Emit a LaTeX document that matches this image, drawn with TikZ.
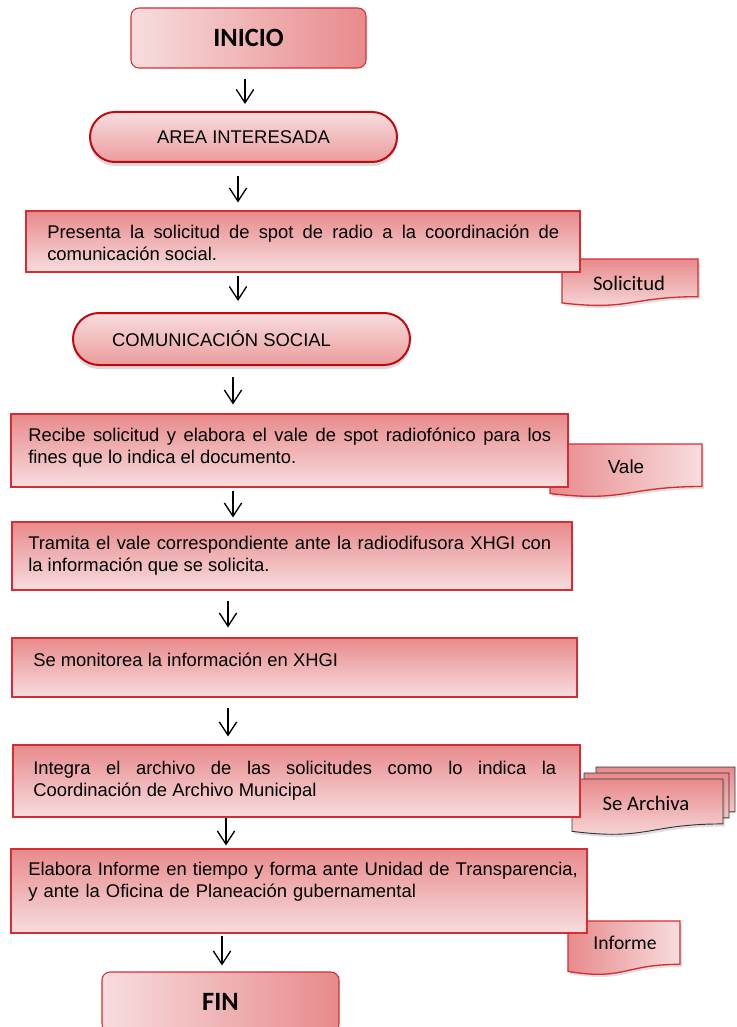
\documentclass[tikz,border=0pt]{standalone}
\usepackage{fontspec}
\setmainfont{Liberation Sans}
\newfontfamily\calibri{Carlito}
\usetikzlibrary{shapes.misc,arrows.meta,shadows}

\definecolor{rosaosc}{RGB}{232,138,140}
\definecolor{rosacla}{RGB}{247,221,222}
\definecolor{bordeRojo}{RGB}{214,45,50}
\definecolor{rojoOsc}{RGB}{192,10,15}

\pgfdeclarelayer{fondo}
\pgfsetlayers{fondo,main}

\newcommand{\hoja}[5]{%
  \path[#1] (#2,#3) -- (#4,#3) -- (#4,{#3+0.802*(#5-#3)})
    .. controls ({(#2+#4)/2},{#3+0.802*(#5-#3)}) and ({(#2+#4)/2},{#3+1.107*(#5-#3)}) .. (#2,{#3+0.934*(#5-#3)}) -- cycle;}

\tikzset{
  extremo/.style={rounded corners=6pt, draw=bordeRojo, line width=0.8pt, inner sep=0pt,
    left color=rosacla, right color=rosaosc, minimum width=#1, minimum height=45pt,
    font=\calibri\bfseries\fontsize{19.8}{22}\selectfont},
  area/.style={rounded rectangle, draw=rojoOsc, line width=1.5pt, inner sep=0pt,
    top color=rosacla, bottom color=rosaosc!85!white,
    drop shadow={opacity=0.3, shadow xshift=0pt, shadow yshift=-3pt},
    font=\fontsize{13.8}{16.5}\selectfont},
  caja/.style={draw=bordeRojo, line width=0.8pt, inner sep=0pt, top color=rosaosc, bottom color=rosacla},
  texto/.style={anchor=west, inner sep=0pt, align=justify, font=\fontsize{13.8}{16.5}\selectfont},
  flecha/.style={-{Straight Barb[length=10pt,width=13pt]}, line width=1pt},
  doc/.style={draw=bordeRojo, line width=1pt,
    drop shadow={opacity=0.25, shadow xshift=1.5pt, shadow yshift=-2pt}},
  multidoc/.style={draw=black!80, line width=0.7pt, top color=rosaosc, bottom color=rosacla},
  etiqueta/.style={font=\calibri\fontsize{15.5}{18}\selectfont}
}

\begin{document}
\begin{tikzpicture}[x=0.75pt,y=-0.75pt]
\useasboundingbox (0,0) rectangle (736,1027);
\clip (0,0) rectangle (736,1027);

\node[extremo=176.25pt] (inicio) at (248.5,38) {INICIO};
\node[area, minimum width=230.25pt, minimum height=37.5pt] (area) at (243.5,137) {AREA INTERESADA};
\node[caja, minimum width=415.5pt, minimum height=45.75pt] (presenta) at (303,241.5) {};
\node[area, minimum width=252.75pt, minimum height=39pt] (comunicacion) at (241.5,339) {COMUNICACIÓN SOCIAL\kern30pt};
\node[caja, minimum width=417.75pt, minimum height=54.75pt] (recibe) at (289.5,450.5) {};
\node[caja, minimum width=420pt, minimum height=51pt] (tramita) at (292,556) {};
\node[caja, minimum width=423.75pt, minimum height=44.25pt] (monitorea) at (294.5,667.5) {};
\node[caja, minimum width=425.25pt, minimum height=54pt] (integra) at (296.5,781) {};
\node[caja, minimum width=432pt, minimum height=63pt] (elabora) at (299,891) {};
\node[extremo=177.75pt] (fin) at (220.5,1002) {FIN};

\node[texto, text width=384pt] (tpresenta) at (47,243)
  {Presenta la solicitud de spot de radio a la coordinación de\linebreak comunicación social.};
\node[texto, text width=392.25pt] (trecibe) at (28,448)
  {Recibe solicitud y elabora el vale de spot radiofónico para los\linebreak fines que lo indica el documento.};
\node[texto, text width=392.25pt] (ttramita) at (28,556)
  {Tramita el vale correspondiente ante la radiodifusora XHGI con\linebreak la información que se solicita.};
\node[texto] (tmonitorea) at (33,660) {Se monitorea la información en XHGI};
\node[texto, text width=392.25pt] (tintegra) at (33,780.5)
  {Integra el archivo de las solicitudes como lo indica la\linebreak Coordinación de Archivo Municipal};
\node[texto, align=left, text width=420pt] (telabora) at (28,882)
  {Elabora Informe en tiempo y forma ante Unidad de Transparencia,\\ y ante la Oficina de Planeación gubernamental};

\begin{pgfonlayer}{fondo}
\hoja{doc, top color=rosaosc, bottom color=rosacla}{562}{259}{698}{306}
\hoja{doc, left color=rosaosc, right color=rosacla}{550}{444}{702}{497}
\hoja{multidoc}{596}{767}{735}{823}
\hoja{multidoc}{584}{773}{729}{829}
\hoja{multidoc, drop shadow={opacity=0.25, shadow xshift=1.5pt, shadow yshift=-2pt}}{572}{779}{723}{835}
\hoja{doc, left color=rosaosc, right color=rosacla}{568}{921}{680}{975}
\end{pgfonlayer}

\node[etiqueta] (solicitud) at (629,283) {Solicitud};
\node[font=\fontsize{14.2}{17}\selectfont] (vale) at (626,467) {Vale};
\node[etiqueta] (archiva) at (646,803) {Se Archiva};
\node[etiqueta, font=\calibri\fontsize{14.7}{17}\selectfont] (informe) at (625,943) {Informe};

\draw[flecha, shorten <=7.5pt, shorten >=5.25pt] ([xshift=-2.625pt]inicio.south) -- ([xshift=1.125pt]area.north);
\draw[flecha, shorten <=9.75pt, shorten >=6pt] ([xshift=-4.125pt]area.south) -- ([xshift=-48.75pt]presenta.north);
\draw[flecha, shorten <=2.25pt, shorten >=8.25pt] ([xshift=-48.75pt]presenta.south) -- ([xshift=-2.625pt]comunicacion.north);
\draw[flecha, shorten <=8.25pt, shorten >=6.75pt] ([xshift=-6.375pt]comunicacion.south) -- ([xshift=-42.375pt]recibe.north);
\draw[flecha, shorten <=2.25pt, shorten >=3pt] ([xshift=-42.375pt]recibe.south) -- ([xshift=-44.25pt]tramita.north);
\draw[flecha, shorten <=7.5pt, shorten >=7.5pt] ([xshift=-48pt]tramita.south) -- ([xshift=-49.875pt]monitorea.north);
\draw[flecha, shorten <=7.5pt, shorten >=6pt] ([xshift=-49.875pt]monitorea.south) -- ([xshift=-51.375pt]integra.north);
\draw[flecha, shorten <=0pt, shorten >=2.25pt] ([xshift=-52.875pt]integra.south) -- ([xshift=-54.75pt]elabora.north);
\draw[flecha, shorten <=1.5pt, shorten >=4.5pt] ([xshift=-57.75pt]elabora.south) -- ([xshift=1.125pt]fin.north);
\end{tikzpicture}
\end{document}
